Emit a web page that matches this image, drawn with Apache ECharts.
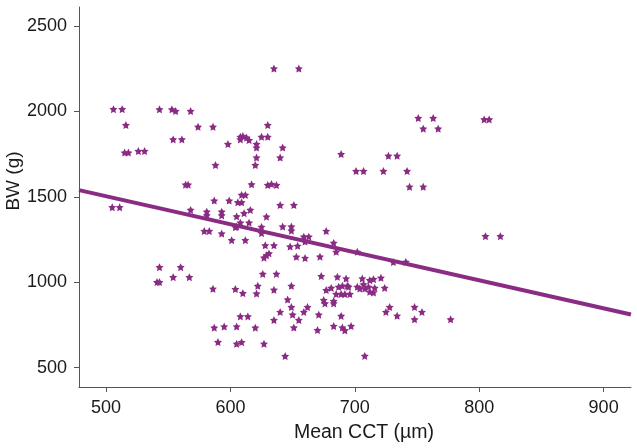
<!DOCTYPE html>
<html>
<head>
<meta charset="utf-8">
<script src="https://cdn.jsdelivr.net/npm/echarts@6/dist/echarts.min.js"></script>
<style>
html,body{margin:0;padding:0;background:#fff;}
#chart{width:637px;height:448px;}
</style>
</head>
<body>
<div id="chart"></div>
<script>
// Mean CCT (µm) of each subject
var cct = [506,513,516,515,518,526,531,543,553,556,568,574,586,554,561,588,598,608,610,613,608,615,621,621,621,620,625,630,630,640,642,635,655,689,727,734,701,707,723,742,751,763,755,767,804,808,744,755,
564,566,617,630,633,637,640,651,505,511,568,587,599,606,609,609,612,581,581,593,593,605,611,616,608,615,604,579,583,593,601,612,605,625,625,629,642,649,649,628,635,648,654,629,631,627,653,660,659,663,660,677,683,685,672,702,731,741,805,817,
543,560,541,543,554,567,586,604,610,626,637,622,621,635,649,646,649,640,635,650,655,659,662,671,670,651,608,614,587,595,605,620,590,605,609,627,644,
673,686,693,706,712,715,721,677,681,687,690,694,695,702,704,708,711,716,724,685,689,692,696,707,712,715,675,683,676,683,728,725,748,754,734,748,777,689,683,690,692,697,708];
// Birth weight (g) of each subject
var bw = [2013,2013,1920,1759,1759,1768,1768,2012,2012,2002,2002,1910,1910,1836,1836,1686,1809,1851,1856,1846,1836,1832,1809,1788,1730,1686,1851,1851,1920,1730,1788,2251,2251,1750,1740,1740,1651,1651,1651,1651,1961,1961,1899,1899,1953,1953,1559,1559,
1571,1571,1573,1569,1575,1569,1452,1452,1439,1439,1423,1478,1478,1468,1468,1511,1511,1413,1391,1413,1391,1385,1404,1423,1349,1349,1322,1300,1300,1285,1246,1246,1326,1324,1287,1384,1326,1326,1302,1216,1216,1209,1213,1158,1169,1144,1149,1142,1267,1267,1238,1300,1230,1178,1150,1178,1118,1119,1270,1270,
1088,1088,1001,1001,1030,1030,962,960,936,1049,1049,979,934,956,979,899,855,826,779,810,779,826,855,810,720,735,800,800,734,741,741,734,650,640,649,640,568,
1036,1032,1022,1022,1012,1018,1026,954,967,973,979,979,973,973,963,963,973,967,967,931,931,931,931,987,944,940,896,890,876,876,855,826,855,826,804,783,783,803,744,735,718,744,569];
// Fitted regression line end points
var fitX = [478.3, 922];
var fitY = [1539, 811];
// Tick labels
var xTicks = [500, 600, 700, 800, 900];
var yTicks = [500, 1000, 1500, 2000, 2500];

var points = cct.map(function (x, i) { return [x, bw[i]]; });
var fitLine = fitX.map(function (x, i) { return [x, fitY[i]]; });

var purple = '#8a2c84';
var txt = '#1a1a1a';
var axisCol = '#555555';
var font = '"Liberation Sans", Arial, sans-serif';
var star = 'path://M50,0L64.7,29.8L97.6,34.5L73.8,57.7L79.4,90.5L50,75L20.6,90.5L26.2,57.7L2.4,34.5L35.3,29.8Z';
var plain = function (v) { return String(Math.round(v)); };

var chart = echarts.init(document.getElementById('chart'), null, {renderer: 'canvas'});
chart.setOption({
  animation: false,
  backgroundColor: '#ffffff',
  grid: {left: 79, right: 6, top: 7, bottom: 61, containLabel: false, outerBoundsMode: 'none'},
  xAxis: {
    type: 'value', min: 478.3, max: 922,
    name: 'Mean CCT (µm)', nameLocation: 'middle', nameGap: 36, nameMoveOverlap: false,
    nameTextStyle: {fontSize: 19.5, color: txt, fontFamily: font, padding: [0, 0, 0, 18]},
    axisLine: {show: true, onZero: false, lineStyle: {color: axisCol, width: 1}},
    axisTick: {show: true, length: 5, customValues: xTicks, lineStyle: {color: axisCol}},
    axisLabel: {customValues: xTicks, formatter: plain, fontSize: 18, color: txt, fontFamily: font, margin: 12},
    splitLine: {show: false}
  },
  yAxis: {
    type: 'value', min: 387, max: 2611,
    name: 'BW (g)', nameLocation: 'middle', nameGap: 56, nameMoveOverlap: false,
    nameTextStyle: {fontSize: 19, color: txt, fontFamily: font, padding: [0, 0, 0, 32]},
    axisLine: {show: true, onZero: false, lineStyle: {color: axisCol, width: 1}},
    axisTick: {show: true, length: 5, customValues: yTicks, lineStyle: {color: axisCol}},
    axisLabel: {customValues: yTicks, formatter: plain, fontSize: 18, color: txt, fontFamily: font, margin: 12},
    splitLine: {show: false}
  },
  series: [
    {
      type: 'scatter', data: points, symbol: star, symbolSize: 8,
      itemStyle: {color: purple, opacity: 1}
    },
    {
      type: 'line', data: fitLine, symbol: 'none',
      lineStyle: {color: purple, width: 4}, z: 3
    }
  ]
});
</script>
</body>
</html>
